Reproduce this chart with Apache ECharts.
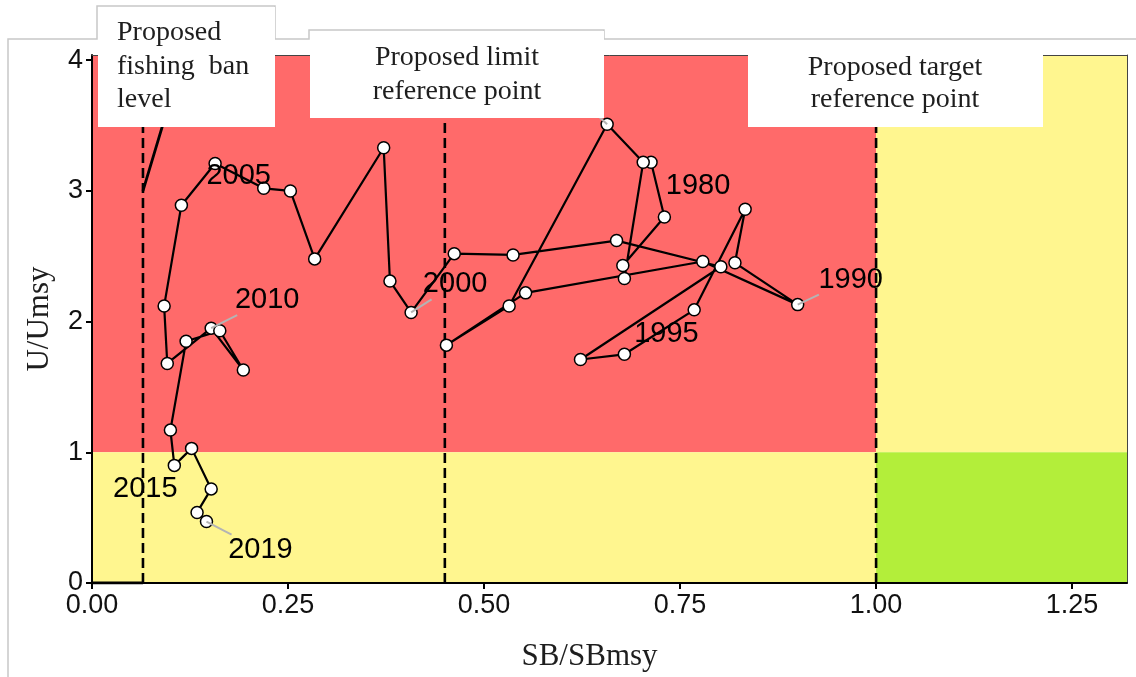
<!DOCTYPE html>
<html>
<head>
<meta charset="utf-8">
<script src="https://cdn.jsdelivr.net/npm/echarts@6/dist/echarts.min.js"></script>
<style>
  html, body { margin: 0; padding: 0; background: #ffffff; }
  #chart { width: 1136px; height: 677px; }
</style>
</head>
<body>
<div id="chart"></div>
<script>
// Stock status trajectory, 1980-2019
const years = [
  1980, 1981, 1982, 1983, 1984, 1985, 1986, 1987, 1988, 1989,
  1990, 1991, 1992, 1993, 1994, 1995, 1996, 1997, 1998, 1999,
  2000, 2001, 2002, 2003, 2004, 2005, 2006, 2007, 2008, 2009,
  2010, 2011, 2012, 2013, 2014, 2015, 2016, 2017, 2018, 2019
];
// Spawning biomass relative to SBmsy
const sbRatio = [
  0.713, 0.730, 0.677, 0.679, 0.703, 0.657, 0.532, 0.452, 0.553, 0.779,
  0.900, 0.820, 0.833, 0.768, 0.679, 0.623, 0.802, 0.669, 0.537, 0.462,
  0.407, 0.380, 0.372, 0.284, 0.253, 0.219, 0.157, 0.114, 0.092, 0.096,
  0.152, 0.193, 0.163, 0.120, 0.100, 0.105, 0.127, 0.152, 0.134, 0.146
];
// Exploitation rate relative to Umsy
const uRatio = [
  3.22, 2.80, 2.43, 2.33, 3.22, 3.51, 2.12, 1.82, 2.22, 2.46,
  2.13, 2.45, 2.86, 2.09, 1.75, 1.71, 2.42, 2.62, 2.51, 2.52,
  2.07, 2.31, 3.33, 2.48, 3.00, 3.02, 3.21, 2.89, 2.12, 1.68,
  1.95, 1.63, 1.93, 1.85, 1.17, 0.90, 1.03, 0.72, 0.54, 0.47
];
const labelledYears = [1980, 1985, 1990, 1995, 2000, 2005, 2010, 2015, 2019];

// Reference points
const fishingBan = 0.065;
const limitRef = 0.45;
const targetRef = 1.0;
const uThreshold = 1.0;

// Harvest control rule path ('-' breaks the line)
const hcrX = [0, 0.065, 0.065, 0.065, 0.115];
const hcrY = [0, 0, '-', 3.0, 4.0];

// Axis ranges and ticks
const X_MAX = 1.32;
const Y_MAX = 4.04;
const xTicks = [0, 0.25, 0.5, 0.75, 1.0, 1.25];
const yTicks = [0, 1, 2, 3, 4];

// ---- styling ----
const SERIF = '"Liberation Serif", "Times New Roman", serif';
const SANS = '"Liberation Sans", Arial, sans-serif';
const zoneColors = ['#FF6A6A', '#FFF68F', '#FFF68F', '#B3EE3A'];

// Label placement (pixel offsets from the point) and whether a leader is drawn
const yearLabelLayout = {
  1980: { dx: 47, dy: 24, leader: false },
  1985: { dx: -50, dy: -46, leader: true },
  1990: { dx: 53, dy: -25, leader: true },
  1995: { dx: 86, dy: -26, leader: false },
  2000: { dx: 44, dy: -28, leader: true },
  2005: { dx: -25, dy: -12, leader: false },
  2010: { dx: 56, dy: -28, leader: true },
  2015: { dx: -29, dy: 24, leader: false },
  2019: { dx: 54, dy: 28, leader: true }
};

const zones = [
  [0, uThreshold, targetRef, Y_MAX, 0],
  [0, 0, targetRef, uThreshold, 1],
  [targetRef, uThreshold, X_MAX, Y_MAX, 2],
  [targetRef, 0, X_MAX, uThreshold, 3]
];

const trajectory = years.map((y, i) => [sbRatio[i], uRatio[i]]);
const hcrLine = hcrX.map((x, i) => [x, hcrY[i]]);
const labelData = labelledYears.map(yr => {
  const i = years.indexOf(yr);
  return [sbRatio[i], uRatio[i], yr];
});

function renderZone(params, api) {
  const tl = api.coord([api.value(0), api.value(3)]);
  const br = api.coord([api.value(2), api.value(1)]);
  return {
    type: 'rect',
    shape: { x: tl[0], y: tl[1], width: br[0] - tl[0], height: br[1] - tl[1] },
    style: { fill: zoneColors[api.value(4)] }
  };
}

function renderYearLabel(params, api) {
  const p = api.coord([api.value(0), api.value(1)]);
  const yr = api.value(2);
  const cfg = yearLabelLayout[yr];
  const children = [];
  if (cfg.leader) {
    const hw = 37, hh = 15;
    const t = 1 - Math.min(hw / Math.abs(cfg.dx), hh / Math.abs(cfg.dy));
    children.push({
      type: 'line',
      shape: { x1: p[0], y1: p[1], x2: p[0] + t * cfg.dx, y2: p[1] + t * cfg.dy },
      style: { stroke: '#b4b4b4', lineWidth: 2 }
    });
  }
  children.push({
    type: 'text',
    style: {
      text: String(yr), x: p[0] + cfg.dx, y: p[1] + cfg.dy,
      align: 'center', verticalAlign: 'middle',
      font: '29px ' + SANS, fill: '#000'
    }
  });
  return { type: 'group', children };
}

const refLineSeries = [fishingBan, limitRef, targetRef].map(ref => ({
  type: 'line',
  data: [[ref, 0], [ref, Y_MAX]],
  symbol: 'none',
  z: 2,
  silent: true,
  lineStyle: { color: '#000', width: 2.6, type: [10, 5] }
}));

const boxText = (text, x, y, align) => ({
  type: 'text', z: 101,
  style: { text, x, y, align, verticalAlign: 'middle', font: '28px ' + SERIF, fill: '#1e1e1e' }
});

const chart = echarts.init(document.getElementById('chart'), null, { renderer: 'canvas' });
chart.setOption({
  animation: false,
  backgroundColor: '#ffffff',
  grid: { left: 92, right: 9, top: 55, bottom: 91 },
  xAxis: [{
    type: 'value', min: 0, max: X_MAX, z: 3,
    name: 'SB/SBmsy', nameLocation: 'middle', nameGap: 58,
    nameTextStyle: { fontFamily: SERIF, fontSize: 31, color: '#1e1e1e', padding: [0, 40, 0, 0] },
    axisLine: { onZero: false, lineStyle: { color: '#000', width: 2 } },
    axisTick: { show: true, length: 6, customValues: xTicks, lineStyle: { color: '#000', width: 2 } },
    axisLabel: { customValues: xTicks, formatter: v => v.toFixed(2), fontFamily: SANS, fontSize: 27, color: '#111', margin: 9 },
    splitLine: { show: false }
  }, {
    type: 'value', min: 0, max: X_MAX, position: 'top', z: 3,
    axisLine: { onZero: false, lineStyle: { color: '#444', width: 1 } },
    axisTick: { show: false }, axisLabel: { show: false }, splitLine: { show: false }
  }],
  yAxis: [{
    type: 'value', min: 0, max: Y_MAX, z: 3,
    name: 'U/Umsy', nameLocation: 'middle', nameGap: 37,
    nameTextStyle: { fontFamily: SERIF, fontSize: 31, color: '#1e1e1e' },
    axisLine: { onZero: false, lineStyle: { color: '#000', width: 2 } },
    axisTick: { show: true, length: 6, customValues: yTicks, lineStyle: { color: '#000', width: 2 } },
    axisLabel: { customValues: yTicks, fontFamily: SANS, fontSize: 27, color: '#111', margin: 9 },
    splitLine: { show: false }
  }, {
    type: 'value', min: 0, max: Y_MAX, position: 'right', z: 3,
    axisLine: { onZero: false, lineStyle: { color: '#444', width: 1 } },
    axisTick: { show: false }, axisLabel: { show: false }, splitLine: { show: false }
  }],
  series: [
    {
      type: 'custom', z: 1, silent: true,
      data: zones,
      encode: { x: [0, 2], y: [1, 3] },
      renderItem: renderZone
    },
    ...refLineSeries,
    {
      type: 'line', z: 4, silent: true,
      data: hcrLine,
      symbol: 'none',
      connectNulls: false,
      lineStyle: { color: '#000', width: 2.8 }
    },
    {
      type: 'line', z: 5,
      data: trajectory,
      symbol: 'circle', symbolSize: 12,
      showSymbol: true, showAllSymbol: true,
      itemStyle: { color: '#ffffff', borderColor: '#000', borderWidth: 1.5 },
      lineStyle: { color: '#000', width: 2.2 }
    },
    {
      type: 'custom', z: 6, silent: true,
      data: labelData,
      encode: { x: 0, y: 1 },
      renderItem: renderYearLabel
    }
  ],
  graphic: [
    {
      type: 'polyline', z: 100, silent: true,
      shape: { points: [[8, 677], [8, 39], [97, 39], [97, 6], [275, 6], [275, 39], [309, 39], [309, 30], [604, 30], [604, 39], [1136, 39]] },
      style: { stroke: '#c8c8c8', lineWidth: 1.5, fill: null }
    },
    { type: 'rect', z: 100, silent: true, shape: { x: 98, y: 7, width: 177, height: 120 }, style: { fill: '#ffffff' } },
    { type: 'rect', z: 100, silent: true, shape: { x: 310, y: 31, width: 294, height: 87 }, style: { fill: '#ffffff' } },
    { type: 'rect', z: 100, silent: true, shape: { x: 748, y: 54, width: 295, height: 73 }, style: { fill: '#ffffff' } },
    boxText('Proposed', 117, 33, 'left'),
    boxText('fishing  ban', 117, 67, 'left'),
    boxText('level', 117, 100, 'left'),
    boxText('Proposed limit', 457, 58, 'center'),
    boxText('reference point', 457, 92, 'center'),
    boxText('Proposed target', 895, 68, 'center'),
    boxText('reference point', 895, 100, 'center')
  ]
});
</script>
</body>
</html>
